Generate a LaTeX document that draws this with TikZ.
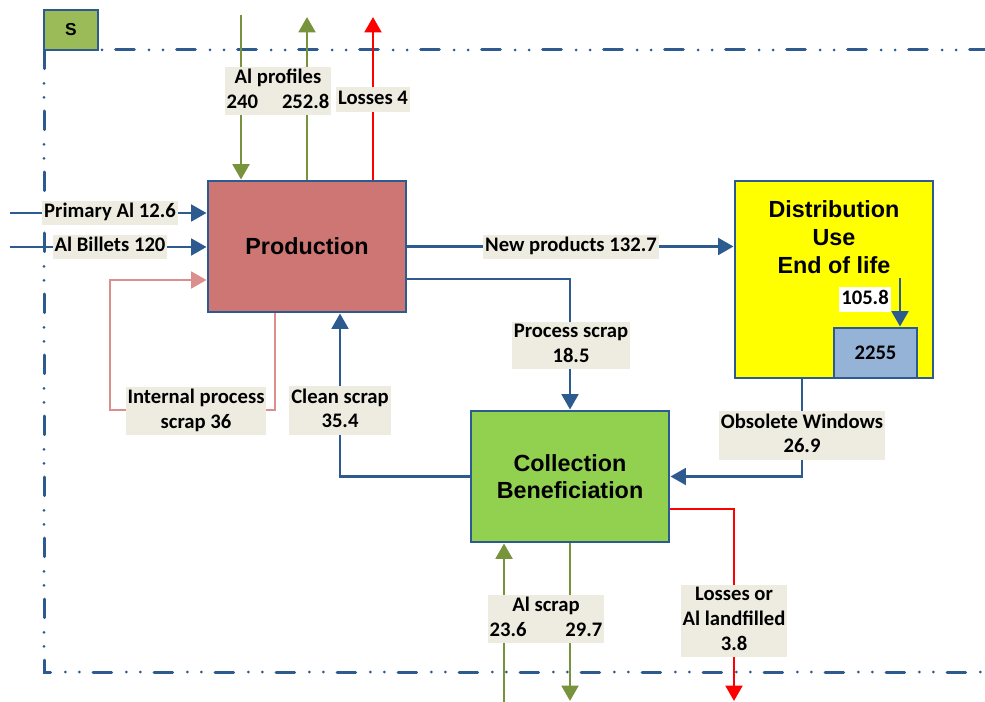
\documentclass[tikz,border=0pt]{standalone}
\usepackage{fontspec}
\setmainfont{Carlito}
\newfontfamily\headfont{Liberation Sans}
\usetikzlibrary{arrows.meta}

\definecolor{frameblue}{HTML}{2E5B8F}
\definecolor{prodfill}{HTML}{CD7674}
\definecolor{distfill}{HTML}{FFFF00}
\definecolor{collfill}{HTML}{92D050}
\definecolor{stockfill}{HTML}{95B3D7}
\definecolor{sfill}{HTML}{9BBB59}
\definecolor{tagfill}{HTML}{EEECE1}
\definecolor{olive}{HTML}{77933C}
\definecolor{lossred}{HTML}{FF0000}
\definecolor{loopink}{HTML}{DB8F8D}

% strut giving every label line the same height and depth
\newcommand\lblstrut{\rule[-3.5pt]{0pt}{14.5pt}}

\begin{document}
\begin{tikzpicture}[x=0.75pt,y=-0.75pt,
  block/.style={draw=frameblue, line width=2.2pt, minimum width=148.5pt,
    minimum height=98.25pt, inner sep=0pt, align=center,
    font=\headfont\bfseries\fontsize{17.5}{20.25}\selectfont},
  tag/.style={fill=tagfill, align=center, inner xsep=1.5pt, inner ysep=1.8pt,
    execute at begin node={\lblstrut}, execute at end node={\lblstrut},
    font=\bfseries\fontsize{15.5}{18.5}\selectfont},
  tip/.style={-{Triangle[length=11.5pt,width=12.5pt]}},
  flow/.style={tip, draw=frameblue, line width=2pt},
  greenflow/.style={tip, draw=olive, line width=2.2pt},
  redflow/.style={tip, draw=lossred, line width=2.2pt},
  pinkflow/.style={tip, draw=loopink, line width=2pt},
  frame/.style={draw=frameblue, line width=2.25pt, line cap=round,
    dash pattern=on 14pt off 11pt on 0pt off 10.5pt on 0pt off 10.25pt}
]
\useasboundingbox (0,0) rectangle (985,702);

% system boundary
\node[draw=frameblue, line width=2.2pt, fill=sfill, outer sep=0pt,
  minimum width=40.5pt, minimum height=30pt,
  font=\headfont\bfseries\fontsize{13}{15}\selectfont] (S) at (71,30) {S};
\coordinate (fTR) at (985,50);
\coordinate (fBL) at (44,672);
\coordinate (fBR) at (985,672);
\draw[frame, dash phase=32.5pt] (S.south east) -- (fTR);
\draw[frame] (S.south west) -- (fBL) -- (fBR);

% processes
\node[block, fill=prodfill] (prod) at (307,246.5) {Production};
\node[block, fill=distfill, minimum height=147.75pt] (dist) at (834,279.5) {};
\node[align=center, font=\headfont\bfseries\fontsize{17.5}{21}\selectfont]
  (disttitle) at (834,237) {Distribution\\Use\\End of life};
\node[draw=frameblue, line width=2.2pt, fill=stockfill, inner sep=0pt,
  minimum width=62.25pt, minimum height=37.5pt,
  font=\bfseries\fontsize{15.5}{18}\selectfont] (stock) at (875.5,353) {2255};
\node[block, fill=collfill] (coll) at (570,476.5) {Collection\\Beneficiation};

% flows into production
\coordinate (pa) at (10,213);
\draw[flow] (pa) -- (pa -| prod.west);
\coordinate (ab) at (10,247);
\draw[flow] (ab) -- (ab -| prod.west);
\coordinate (ip1) at (275,410);
\coordinate (ip2) at (110,410);
\coordinate (ip3) at (110,280);
\draw[pinkflow] (ip1 |- prod.south) -- (ip1) -- (ip2) -- (ip3) -- (ip3 -| prod.west);
\coordinate (cs) at (340,476.5);
\draw[flow] (coll.west) -- (cs) -- (cs |- prod.south);

% flows across the top boundary
\coordinate (api) at (241,15);
\draw[greenflow] (api) -- (api |- prod.north);
\coordinate (apo) at (307,17);
\draw[greenflow] (apo |- prod.north) -- (apo);
\coordinate (los) at (373,17);
\draw[redflow] (los |- prod.north) -- (los);

% products, stock and scrap
\draw[flow] (prod.east) -- (prod.east -| dist.west);
\coordinate (ps) at (570,279);
\draw[flow] (ps -| prod.east) -- (ps) -- (coll.north);
\coordinate (r1) at (900,278);
\draw[flow] (r1) -- (r1 |- stock.north);
\coordinate (ob) at (802,476.5);
\draw[flow] (ob |- dist.south) -- (ob) -- (coll.east);

% flows across the bottom boundary
\coordinate (ll) at (734,509);
\coordinate (llend) at (734,701);
\draw[redflow] (ll -| coll.east) -- (ll) -- (llend);
\coordinate (asi) at (504,702);
\draw[greenflow] (asi) -- (asi |- coll.south);
\coordinate (aso) at (570,701);
\draw[greenflow] (coll.south) -- (aso);

% flow labels
\node[tag] (tPA) at (110,213) {Primary Al 12.6};
\node[tag] (tAB) at (110,247) {Al Billets 120};
\node[tag] (tAP) at (278,91) {Al profiles\\240\hspace{18pt}252.8};
\node[tag] (tLo) at (373,99.5) {Losses 4};
\node[tag] (tNP) at (571,247) {New products 132.7};
\node[tag] (tPS) at (571,345.5) {Process scrap\\18.5};
\node[tag] (tIP) at (196,411) {Internal process\\scrap 36};
\node[tag] (tCS) at (340,410.5) {Clean scrap\\35.4};
\node[tag] (tOW) at (802,435.5) {Obsolete Windows\\26.9};
\node[tag] (tAS) at (546,619) {Al scrap\\23.6\hspace{29pt}29.7};
\node[tag] (tLL) at (734,621) {Losses or\\Al landfilled\\3.8};
\node[tag, fill=white] (t105) at (865,299.5) {105.8};
\end{tikzpicture}
\end{document}
